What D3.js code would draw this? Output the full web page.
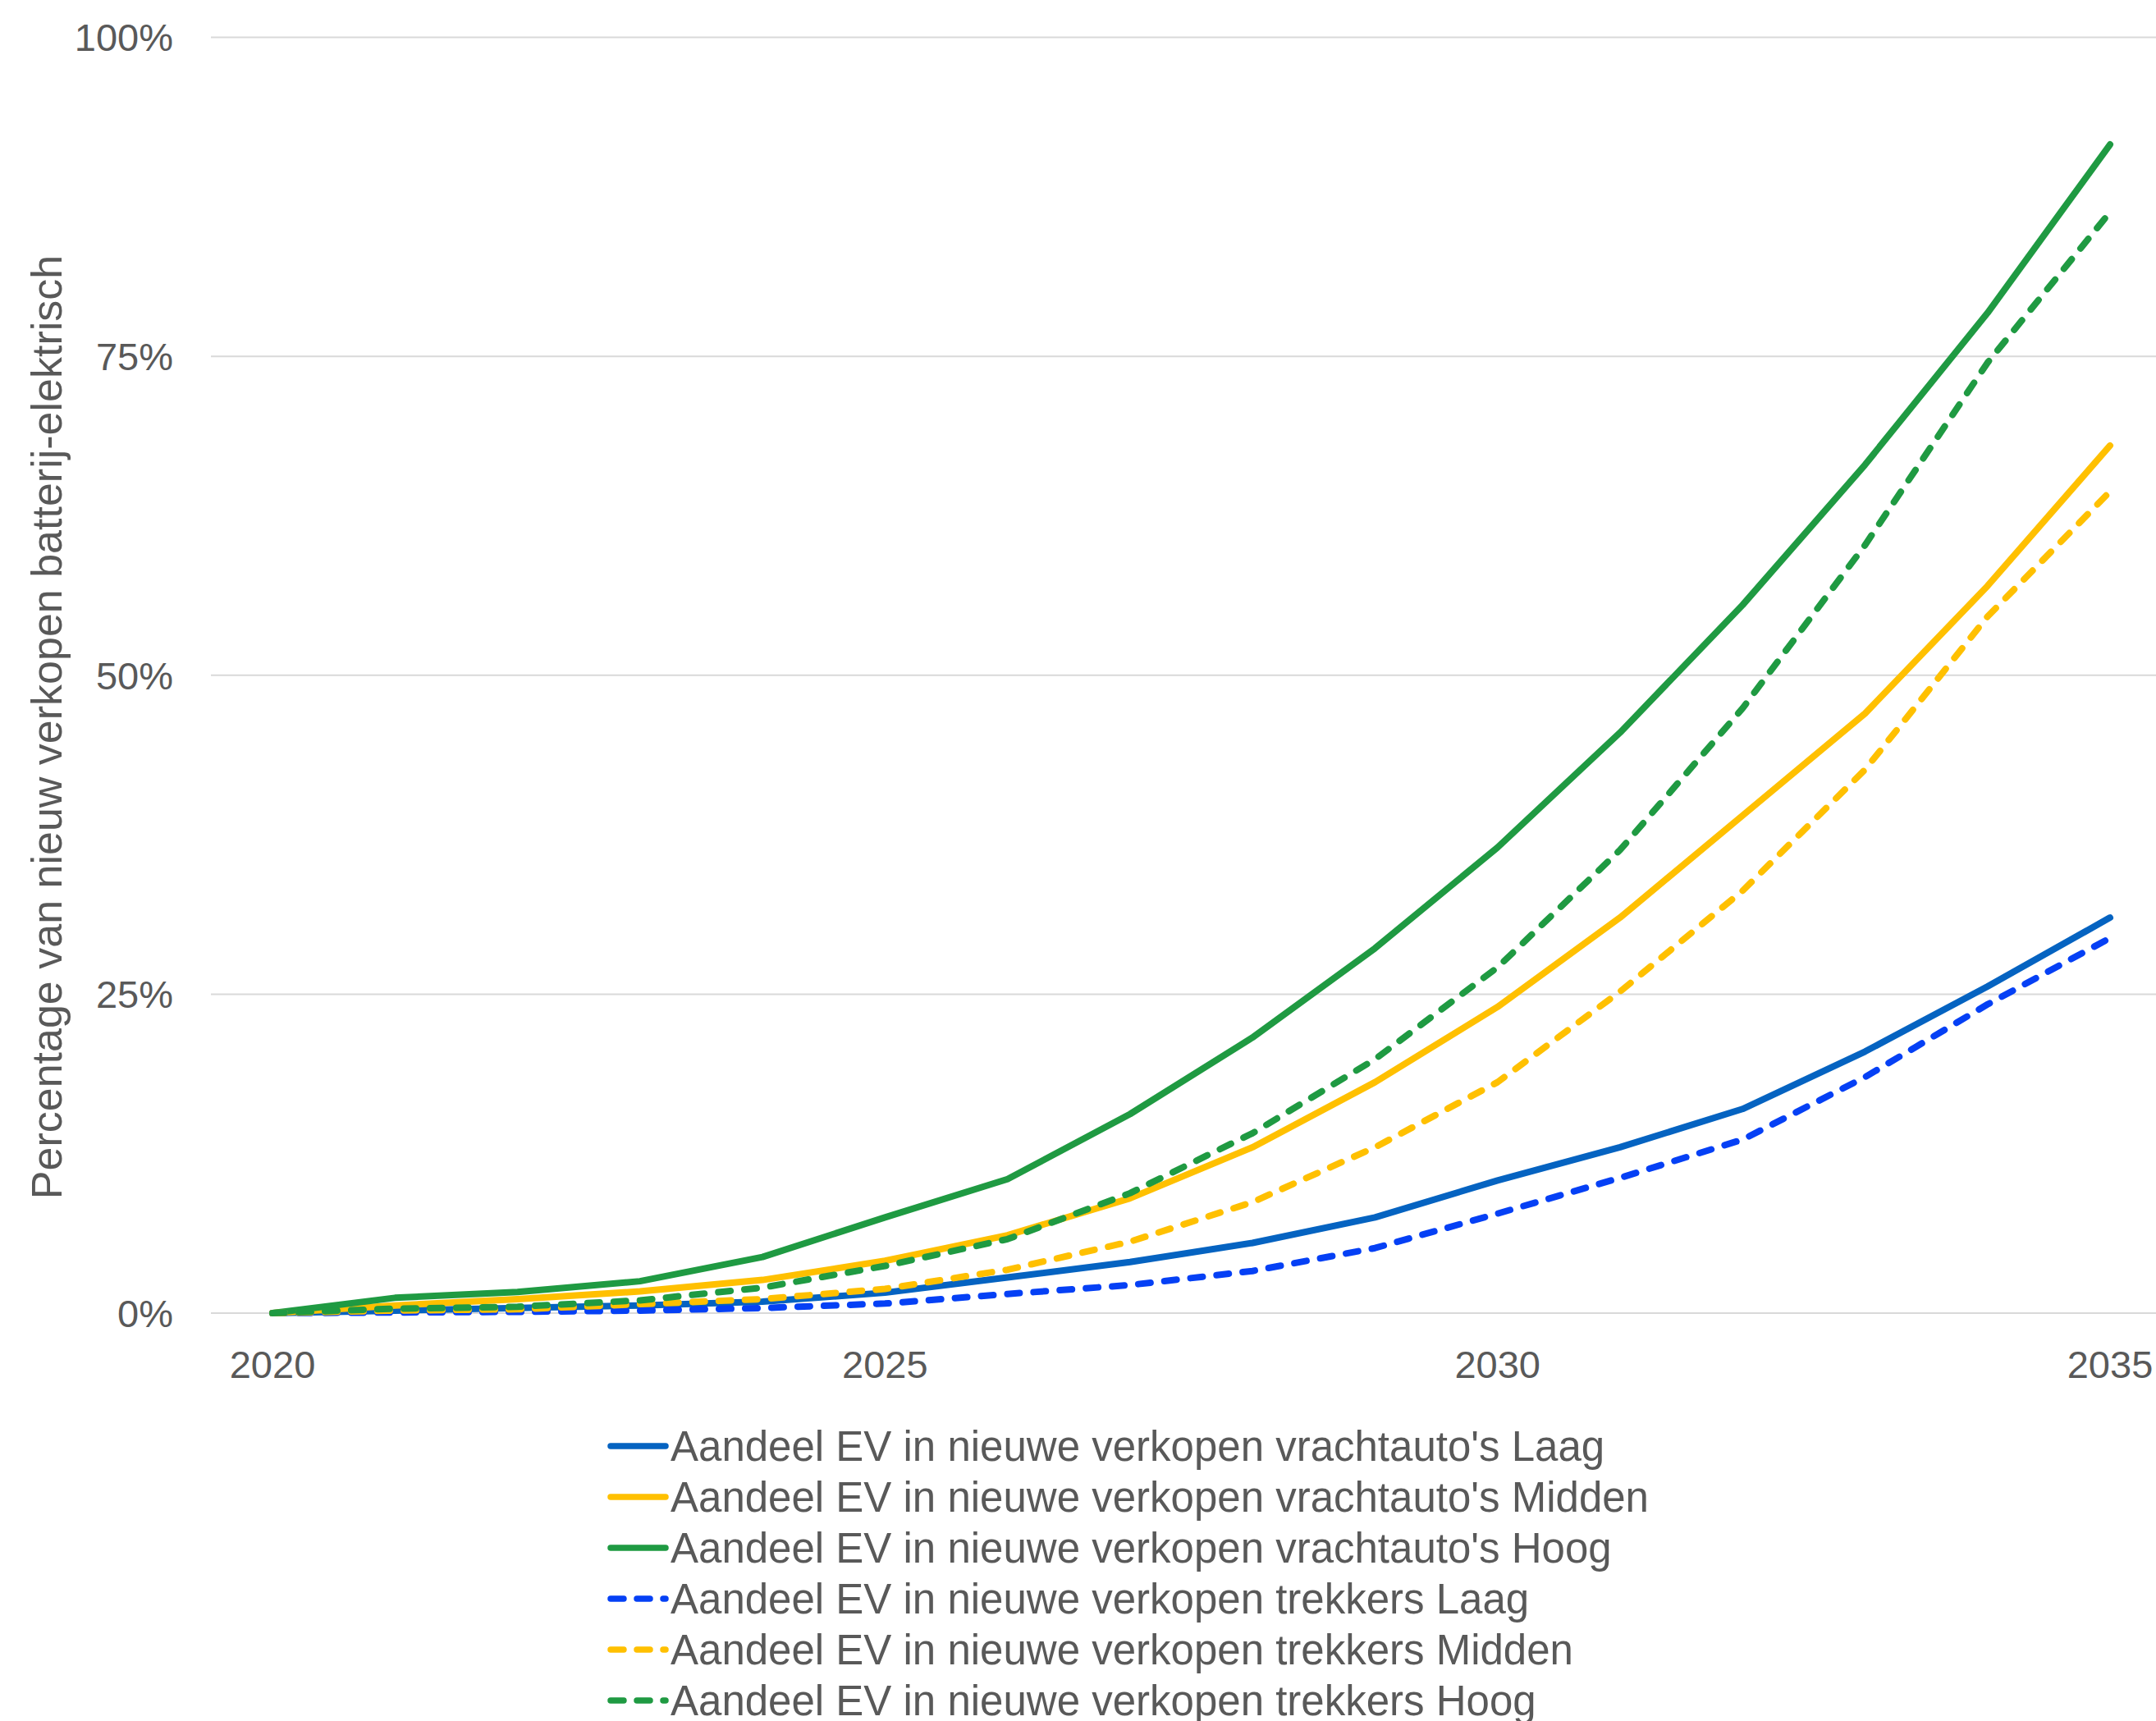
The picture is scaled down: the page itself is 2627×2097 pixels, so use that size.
<!DOCTYPE html>
<html>
<head>
<meta charset="utf-8">
<script src="https://cdn.jsdelivr.net/npm/d3@7"></script>
<style>
  html, body { margin: 0; padding: 0; background: #ffffff; }
  svg { display: block; }
  text { font-family: "Liberation Sans", Arial, sans-serif; fill: #595959; }
</style>
</head>
<body>
<svg id="chart" width="2627" height="2097"></svg>
<script>
// ---- data ----
const years = [2020, 2021, 2022, 2023, 2024, 2025, 2026, 2027, 2028, 2029, 2030, 2031, 2032, 2033, 2034, 2035];
const vrachtLaag   = [0, 0.2, 0.4, 0.6, 0.9, 1.6, 2.8, 4.0, 5.5, 7.5, 10.4, 13.0, 16.0, 20.5, 25.6, 31.0];
const vrachtMidden = [0, 0.6, 1.1, 1.7, 2.6, 4.1, 6.1, 9.0, 13.0, 18.1, 24.0, 31.0, 39.0, 47.0, 57.0, 68.0];
const vrachtHoog   = [0, 1.2, 1.65, 2.5, 4.4, 7.5, 10.5, 15.6, 21.6, 28.6, 36.5, 45.5, 55.5, 66.5, 78.4, 91.6];
const trekLaag     = [0, 0.05, 0.1, 0.2, 0.4, 0.75, 1.5, 2.2, 3.3, 5.1, 7.8, 10.6, 13.6, 18.5, 24.2, 29.4];
const trekMidden   = [0, 0.2, 0.3, 0.7, 1.1, 1.9, 3.4, 5.6, 8.7, 13.0, 18.1, 25.2, 33.1, 42.6, 54.6, 64.4];
const trekHoog     = [0, 0.35, 0.5, 1.0, 2.0, 3.7, 5.8, 9.4, 14.1, 19.9, 27.1, 36.3, 47.4, 60.2, 74.5, 86.3];
const seriesNames = [
  "Aandeel EV in nieuwe verkopen vrachtauto's Laag",
  "Aandeel EV in nieuwe verkopen vrachtauto's Midden",
  "Aandeel EV in nieuwe verkopen vrachtauto's Hoog",
  "Aandeel EV in nieuwe verkopen trekkers Laag",
  "Aandeel EV in nieuwe verkopen trekkers Midden",
  "Aandeel EV in nieuwe verkopen trekkers Hoog"
];
const yTicks = [0, 25, 50, 75, 100];
const yTickLabels = ["0%", "25%", "50%", "75%", "100%"];
const xTicks = [2020, 2025, 2030, 2035];
const yAxisTitle = "Percentage van nieuw verkopen batterij-elektrisch";

// ---- styling ----
const seriesValues = [vrachtLaag, vrachtMidden, vrachtHoog, trekLaag, trekMidden, trekHoog];
const colors = ["#0563C1", "#FFC000", "#1F9A42", "#0540F5", "#FFC000", "#1F9A42"];
const dashed = [false, false, false, true, true, true];

const svg = d3.select("#chart");
const x = d3.scaleLinear().domain([2020, 2035]).range([332, 2571]);
const y = d3.scaleLinear().domain([0, 100]).range([1600, 45.5]);

// gridlines
svg.append("g").selectAll("line").data(yTicks).join("line")
  .attr("x1", 257).attr("x2", 2627)
  .attr("y1", d => y(d)).attr("y2", d => y(d))
  .attr("stroke", "#D9D9D9").attr("stroke-width", 2);

// y tick labels
svg.append("g").selectAll("text").data(yTicks).join("text")
  .attr("x", 211).attr("y", d => y(d))
  .attr("dy", "0.36em")
  .attr("text-anchor", "end")
  .style("font-size", "47px")
  .text((d, i) => yTickLabels[i]);

// x tick labels
svg.append("g").selectAll("text").data(xTicks).join("text")
  .attr("x", d => x(d)).attr("y", 1679)
  .attr("text-anchor", "middle")
  .style("font-size", "47px")
  .text(d => d);

// y axis title
svg.append("text")
  .attr("transform", "translate(75,886) rotate(-90)")
  .attr("text-anchor", "middle")
  .style("font-size", "52px")
  .text(yAxisTitle);

// lines
const line = d3.line().x((d, i) => x(years[i])).y(d => y(d));
svg.append("g").selectAll("path").data(seriesValues).join("path")
  .attr("d", d => line(d))
  .attr("fill", "none")
  .attr("stroke", (d, i) => colors[i])
  .attr("stroke-width", 8)
  .attr("stroke-linejoin", "round")
  .attr("stroke-linecap", "round")
  .attr("stroke-dasharray", (d, i) => dashed[i] ? "15,17" : null);

// legend
const legend = svg.append("g");
const rows = legend.selectAll("g").data(seriesNames).join("g")
  .attr("transform", (d, i) => `translate(0,${1762 + i * 62})`);
rows.append("line")
  .attr("x1", 744).attr("x2", 811).attr("y1", 0).attr("y2", 0)
  .attr("stroke", (d, i) => colors[i])
  .attr("stroke-width", 7.5)
  .attr("stroke-linecap", "round")
  .attr("stroke-dasharray", (d, i) => dashed[i] ? "16,16" : null);
rows.append("text")
  .attr("x", 817).attr("y", 0).attr("dy", "0.36em")
  .style("font-size", "51px")
  .text(d => d);
</script>
</body>
</html>
